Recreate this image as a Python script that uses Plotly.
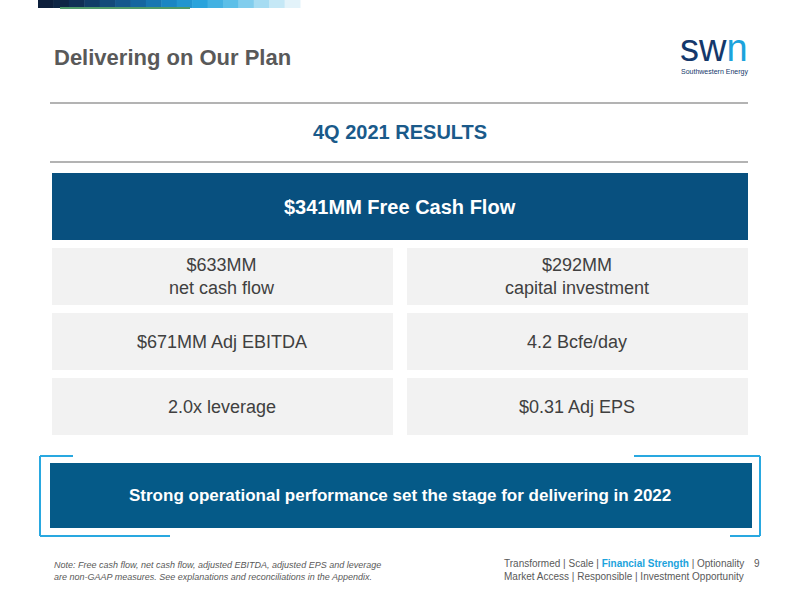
import plotly.graph_objects as go

title = "Delivering on Our Plan"
subtitle = "4Q 2021 RESULTS"
headline = "$341MM Free Cash Flow"
left_items = ["$633MM<br>net cash flow", "$671MM Adj EBITDA", "2.0x leverage"]
right_items = ["$292MM<br>capital investment", "4.2 Bcfe/day", "$0.31 Adj EPS"]
banner = "Strong operational performance set the stage for delivering in 2022"
note = ("Note: Free cash flow, net cash flow, adjusted EBITDA, adjusted EPS and leverage<br>"
        "are non-GAAP measures. See explanations and reconciliations in the Appendix.")
footer1 = "Transformed | Scale | <span style='color:#1ca3dc'><b>Financial Strength</b></span> | Optionality"
footer2 = "Market Access | Responsible | Investment Opportunity"
page = "9"

fig = go.Figure()
shapes = []
anns = []
F = "Liberation Sans Narrow, Arial Narrow, Liberation Sans, Arial"
A = "Liberation Sans, Arial"

def rect(x0, y0, x1, y1, color):
    shapes.append(dict(type="rect", x0=x0, y0=y0, x1=x1, y1=y1, fillcolor=color,
                       line=dict(width=0), layer="below"))

def seg(x0, y0, x1, y1, color, w):
    shapes.append(dict(type="line", x0=x0, y0=y0, x1=x1, y1=y1, line=dict(color=color, width=w)))

def text(x, y, t, size, color, bold=False, xanchor="center", italic=False, family=A, align="center"):
    if bold:
        t = "<b>" + t + "</b>"
    if italic:
        t = "<i>" + t + "</i>"
    anns.append(dict(x=x, y=y, text=t, showarrow=False, xanchor=xanchor, yanchor="middle",
                     font=dict(size=size, color=color, family=family), align=align))

grad = ["#0d1f3c", "#0e2645", "#0f2f55", "#113d68", "#124a7a", "#14588d", "#1566a0", "#1876b2",
        "#1a86c4", "#2295d0", "#2aa3dc", "#43b1e2", "#5cbfe8", "#81cded", "#a6dcf2", "#c5e8f6", "#e3f3fa"]
x = 38
w = (300 - 38) / len(grad)
for c in grad:
    rect(x, 0, x + w + 0.5, 8, c)
    x += w
rect(60, 7, 190, 9, "#4f9a6a")

text(52, 57, title, 22, "#595959", bold=True, xanchor="left", family=F)
text(714, 48, "<span style='color:#14386b'>sw</span><span style='color:#1ca3dc'>n</span>", 38, "#14386b")
text(714, 72, "Southwestern Energy", 7, "#14386b")

seg(50, 103, 748, 103, "#9a9a9a", 1.5)
text(400, 132, subtitle, 20, "#1a5a8a", bold=True)
seg(50, 162, 748, 162, "#9a9a9a", 1.5)

rect(52, 173, 748, 240, "#08507f")
text(400, 207, headline, 20, "white", bold=True)

rows = [(248, 305), (313, 370), (378, 435)]
for (y0, y1), l, r in zip(rows, left_items, right_items):
    rect(52, y0, 393, y1, "#f2f2f2")
    rect(407, y0, 748, y1, "#f2f2f2")
    text(222, (y0 + y1) / 2, l, 18, "#404040")
    text(577, (y0 + y1) / 2, r, 18, "#404040")

rect(50, 463, 752, 528, "#055a88")
cy = "#29a8e0"
seg(40, 456, 73, 456, cy, 2)
seg(40, 456, 40, 536, cy, 2)
seg(40, 536, 170, 536, cy, 2)
seg(634, 456, 760, 456, cy, 2)
seg(760, 456, 760, 536, cy, 2)
seg(730, 536, 760, 536, cy, 2)
text(400, 495, banner, 17, "white", bold=True)

text(52, 571, note, 9, "#595959", italic=True, xanchor="left", align="left")
text(502, 563, footer1, 10, "#595959", xanchor="left", align="left", family=F)
text(502, 576, footer2, 10, "#595959", xanchor="left", align="left", family=F)
text(757, 563, page, 10, "#595959")

fig.update_layout(width=800, height=600, margin=dict(l=0, r=0, t=0, b=0),
                  plot_bgcolor="white", paper_bgcolor="white",
                  xaxis=dict(range=[0, 800], visible=False, fixedrange=True),
                  yaxis=dict(range=[600, 0], visible=False, fixedrange=True),
                  shapes=shapes, annotations=anns, showlegend=False)
fig.write_html("out.html", config={"displayModeBar": False},
               post_script="document.body.style.margin='0';document.body.style.overflow='hidden';")
